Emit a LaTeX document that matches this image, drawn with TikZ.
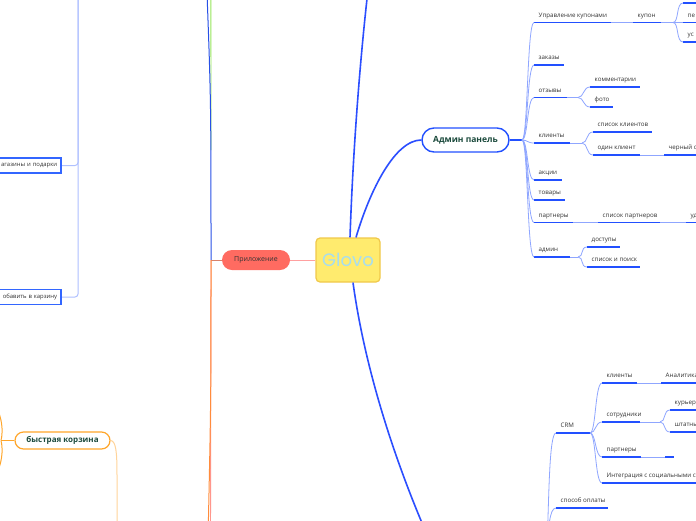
\documentclass[tikz,border=0pt]{standalone}
\usepackage{fontspec}
\setmainfont{Open Sans}
\newfontfamily\glovofont{Poppins}
\definecolor{ublue}{HTML}{2250FF}
\definecolor{lblue}{HTML}{8FA6FF}
\definecolor{llblue}{HTML}{AFC0FF}
\definecolor{mblue}{HTML}{2B4EFF}
\definecolor{dgreen}{HTML}{1B4A3C}
\definecolor{orng}{HTML}{FFA62B}
\definecolor{lorng}{HTML}{FFD49A}
\definecolor{salmon}{HTML}{FF6B61}
\definecolor{lsalmon}{HTML}{FFA0A0}
\definecolor{gyellow}{HTML}{FFEB6E}
\definecolor{gborder}{HTML}{F0C84A}
\definecolor{glovotext}{HTML}{A6DDF0}
\definecolor{txt}{HTML}{333333}
\definecolor{boxblue}{HTML}{3366FF}
\tikzset{
  item/.style={anchor=south west, inner xsep=4.5pt, inner ysep=3.5pt, text depth=1.5pt, text height=4.8pt, font=\fontsize{6.2}{7}\selectfont, text=txt},
  uline/.style={draw=ublue, line width=1.6pt},
  conn/.style={draw=lblue, line width=0.8pt},
  mainc/.style={draw=mblue, line width=1.6pt},
  glovo/.style={draw=gborder, fill=gyellow, line width=1.2pt, rounded corners=4pt, minimum width=64pt, minimum height=44pt, inner sep=0pt, font=\glovofont\fontsize{18}{20}\selectfont, text=glovotext},
  app/.style={fill=salmon, rounded corners=10pt, minimum width=68pt, minimum height=20pt, inner sep=0pt, font=\fontsize{7}{8}\selectfont, text=txt},
  admin/.style={draw=ublue, fill=white, line width=1.4pt, rounded corners=12pt, minimum width=87pt, minimum height=24pt, inner sep=0pt, font=\bfseries\fontsize{8.5}{10}\selectfont, text=dgreen},
  quick/.style={draw=orng, fill=white, line width=1.2pt, rounded corners=8.5pt, minimum width=95pt, minimum height=17pt, inner sep=0pt, font=\bfseries\fontsize{8}{9}\selectfont, text=dgreen},
  lbox/.style={draw=boxblue, fill=white, line width=1.8pt, text width=70pt, align=right, inner xsep=4pt, minimum height=15pt, inner ysep=0pt, font=\fontsize{5.9}{7}\selectfont, text=txt},
}
\newcommand\itm[5]{\node[item] (#1) at (#2,#3) {#5};
  \draw[uline] (#1.south west) -- ++(#4,0) coordinate (#1e);}
\newcommand\br[2]{\draw[conn] (#1) .. controls +(6,0) and +(-7,0) .. (#2.south west);}
\begin{document}
\begin{tikzpicture}[x=1pt,y=-1pt]
\useasboundingbox (0,0) rectangle (696,520);
\clip (0,0) rectangle (696,520);
\fill[white] (0,0) rectangle (696,520);

% main nodes
\node[glovo] (g) at (348,260) {Glovo};
\node[app] (app) at (256,260) {Приложение};
\node[admin] (adm) at (465.5,140) {Админ панель};
\node[quick] (q) at (62.5,440.5) {быстрая корзина};
\node[lbox, anchor=east] (m1) at (62,165.5) {агазины и подарки};
\node[lbox, anchor=east] (m2) at (62,297) {обавить в карзину};

% central connectors
\coordinate (top) at (368,-10);
\coordinate (bot) at (425,530);
\draw[mainc] ([xshift=2pt]g.north) .. controls (353,150) and (360,60) .. (top);
\draw[mainc] ([xshift=8pt]g.north) .. controls (370,190) and (395,140) .. (adm.west);
\draw[mainc] ([xshift=5pt]g.south) .. controls (365,370) and (395,460) .. (bot);
\draw[lsalmon, line width=1pt] (g.west) -- (app.east);

% app branches
\coordinate (pr) at (211,260);
\coordinate (pu1) at (206.5,-20);
\coordinate (pu2) at (210.8,-20);
\coordinate (pd1) at (208,540);
\coordinate (pd2) at (210.5,540);
\draw[color={rgb,255:red,217;green,130;blue,106}, line width=1pt] (app.west) -- (pr);
\draw[color={rgb,255:red,150;green,230;blue,90}, line width=0.9pt] (211,150) .. controls (211,80) .. (pu2);
\draw[color={rgb,255:red,40;green,80;blue,230}, line width=1pt] (pr) .. controls (211,100) .. (pu1);
\draw[color={rgb,255:red,255;green,150;blue,140}, line width=0.9pt] (pr) .. controls (211,400) .. (pd2);
\draw[color={rgb,255:red,255;green,140;blue,60}, line width=1pt] (pr) .. controls (211,400) .. (pd1);

% left boxes connectors
\coordinate (pL) at (78,-40);
\draw[llblue, line width=1pt, rounded corners=3pt] (pL) |- (m1.east);
\draw[llblue, line width=1pt, rounded corners=3pt] (pL) |- (m2.east);

% quick basket
\coordinate (qb) at (1,440.5);
\coordinate (qu) at (-3,408);
\coordinate (qd) at (-3,473);
\coordinate (qc) at (117,560);
\draw[orng, line width=1.6pt] (qb) -- (q.west);
\draw[orng, line width=1pt] (qb) .. controls (3.5,430) and (1.5,418) .. (qu);
\draw[orng, line width=1pt] (qb) .. controls (3.5,451) and (1.5,463) .. (qd);
\draw[lorng, line width=1pt] (q.east) .. controls (116,441) and (117,452) .. (117,475) -- (qc);

% admin panel subtree
\coordinate (bA) at (522,140);
\draw[ublue, line width=1.6pt] (adm.east) -- (bA);
\itm{a1}{534}{22.5}{77}{Управление купонами}
\itm{a2}{534}{65}{30}{заказы}
\itm{a3}{534}{97.5}{33}{отзывы}
\itm{a4}{534}{143}{36}{клиенты}
\itm{a5}{534}{180}{28}{акции}
\itm{a6}{534}{200}{31}{товары}
\itm{a7}{534}{222.5}{39}{партнеры}
\itm{a8}{534}{257}{36}{админ}
\foreach \n in {a1,a2,a3,a4,a5,a6,a7,a8} {\br{bA}{\n}}

% coupons
\itm{k}{633}{22.5}{28}{купон}
\draw[conn] (a1e) -- (k.south west);
\coordinate (kb) at (673,22.5);
\draw[conn] (ke) -- (kb);
\itm{k1}{683}{3}{20}{}
\itm{k2}{683}{22.5}{20}{пе}
\itm{k3}{683}{42}{20}{ус}
\foreach \n in {k1,k2,k3} {\br{kb}{\n}}

% reviews
\coordinate (ob) at (578,97.5);
\draw[conn] (a3e) -- (ob);
\itm{o1}{590}{87}{50}{комментарии}
\itm{o2}{590}{107}{23}{фото}
\br{ob}{o1}\br{ob}{o2}

% clients
\coordinate (cb) at (582,143);
\draw[conn] (a4e) -- (cb);
\itm{c1}{593}{132}{59}{список клиентов}
\itm{c2}{593}{155}{47}{один клиент}
\br{cb}{c1}\br{cb}{c2}
\itm{c3}{664}{155}{40}{черный список}
\draw[conn] (c2e) -- (c3.south west);

% partners
\itm{p1}{598}{222.5}{62}{список партнеров}
\draw[conn] (a7e) -- (p1.south west);
\itm{p2}{686}{222.5}{20}{уд}
\draw[conn] (p1e) -- (p2.south west);

% admin
\coordinate (db) at (578,257);
\draw[conn] (a8e) -- (db);
\itm{d1}{587}{247}{33}{доступы}
\itm{d2}{587}{267}{53}{список и поиск}
\br{db}{d1}\br{db}{d2}

% bottom right CRM
\coordinate (bB) at (547,545);
\itm{r}{556}{433}{34}{CRM}
\itm{s}{556}{508}{52}{способ оплаты}
\draw[conn] (bB) .. controls (549,500) and (549,433) .. (r.south west);
\draw[conn] (bB) .. controls (549,530) and (549,508) .. (s.south west);
\itm{r1}{602}{383}{35}{клиенты}
\itm{r2}{602}{422}{38}{сотрудники}
\itm{r3}{602}{457}{39}{партнеры}
\itm{r4}{602}{483}{100}{Интеграция с социальными сетями}
\foreach \n in {r1,r2,r3,r4} {\br{re}{\n}}
\itm{r1a}{661}{383}{40}{Аналитика}
\draw[conn] (r1e) -- (r1a.south west);
\coordinate (r2b) at (660,422);
\draw[conn] (r2e) -- (r2b);
\itm{r2a}{670}{410}{30}{курьеры}
\itm{r2c}{670}{432}{30}{штатные}
\br{r2b}{r2a}\br{r2b}{r2c}
\itm{r3a}{665}{457}{9}{}
\draw[conn] (r3e) -- (r3a.south west);
\end{tikzpicture}
\end{document}
